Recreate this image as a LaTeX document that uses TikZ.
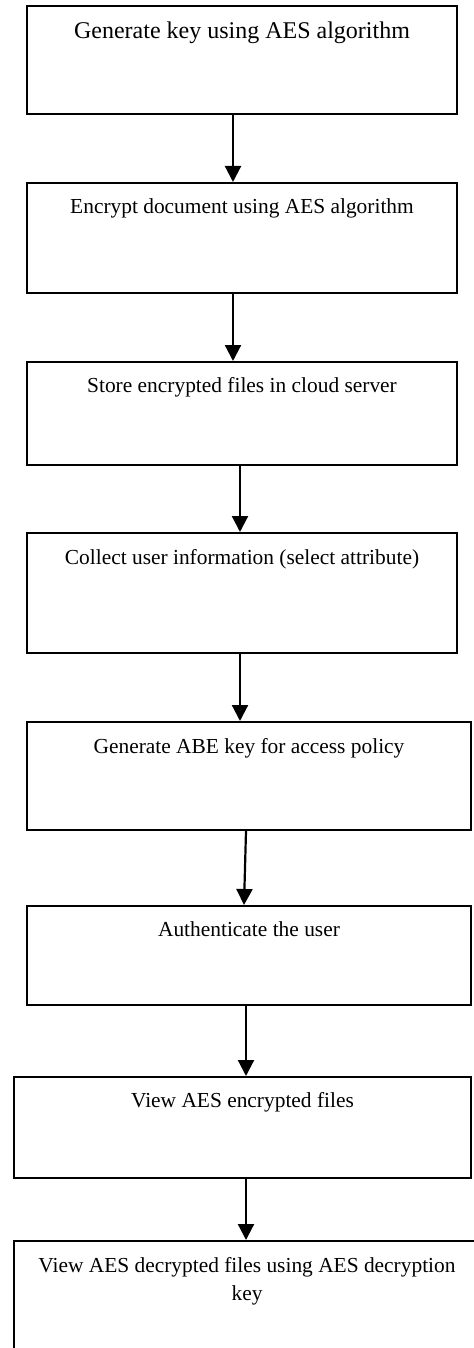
\documentclass[tikz,border=0pt]{standalone}
\usepackage{fontspec}
\setmainfont{Liberation Serif}
\usetikzlibrary{arrows.meta}
\begin{document}
\begin{tikzpicture}[x=1pt,y=1pt,
  stepbox/.style={draw=black, line width=1pt, rectangle, inner sep=0pt},
  steptext/.style={anchor=base, inner sep=0pt, font=\fontsize{10.7}{14}\selectfont, align=center},
  bigtext/.style={steptext, font=\fontsize{12}{14}\selectfont},
  flow/.style={draw=black, line width=1.1pt, -{Triangle[length=8pt,width=8pt]}}]
\useasboundingbox (0,0) rectangle (237,-674);
\clip (0,0) rectangle (237,-674);
\node[stepbox, minimum width=215pt, minimum height=54pt] (b1) at (121,-30) {};
\node[stepbox, minimum width=215pt, minimum height=55pt] (b2) at (121,-119) {};
\node[stepbox, minimum width=215pt, minimum height=51.5pt] (b3) at (121,-206.75) {};
\node[stepbox, minimum width=215pt, minimum height=60pt] (b4) at (121,-296.5) {};
\node[stepbox, minimum width=222pt, minimum height=54pt] (b5) at (124.5,-388) {};
\node[stepbox, minimum width=222pt, minimum height=49.5pt] (b6) at (124.5,-477.75) {};
\node[stepbox, minimum width=228.5pt, minimum height=50.5pt] (b7) at (121.25,-563.75) {};
\node[stepbox, minimum width=233pt, minimum height=59.5pt] (b8) at (123.5,-650.25) {};
\node[bigtext] (t1) at ([yshift=-17pt]b1.north) {Generate key using AES algorithm};
\node[steptext] (t2) at ([yshift=-15.75pt]b2.north) {Encrypt document using AES algorithm};
\node[steptext] (t3) at ([yshift=-15.75pt]b3.north) {Store encrypted files in cloud server};
\node[steptext] (t4) at ([yshift=-16pt]b4.north) {Collect user information (select attribute)};
\node[steptext] (t5) at ([yshift=-16pt]b5.north) {Generate ABE key for access policy};
\node[steptext] (t6) at ([yshift=-15.75pt]b6.north) {Authenticate the user};
\node[steptext] (t7) at ([yshift=-15.75pt]b7.north) {View AES encrypted files};
\node[steptext] (t8) at ([yshift=-30pt]b8.north) {View AES decrypted files using AES decryption\\key};
\draw[flow] ([xshift=-4.5pt]b1.south) -- ([xshift=-4.5pt]b2.north);
\draw[flow] ([xshift=-4.5pt]b2.south) -- ([xshift=-4.5pt]b3.north);
\draw[flow] ([xshift=-1pt]b3.south) -- ([xshift=-1pt]b4.north);
\draw[flow] ([xshift=-1pt]b4.south) -- ([xshift=-4.5pt]b5.north);
\draw[flow] ([xshift=-1.5pt]b5.south) -- ([xshift=-2.5pt]b6.north);
\draw[flow] ([xshift=-1.5pt]b6.south) -- ([xshift=1.75pt]b7.north);
\draw[flow] ([xshift=1.75pt]b7.south) -- ([xshift=-0.5pt]b8.north);
\end{tikzpicture}
\end{document}
